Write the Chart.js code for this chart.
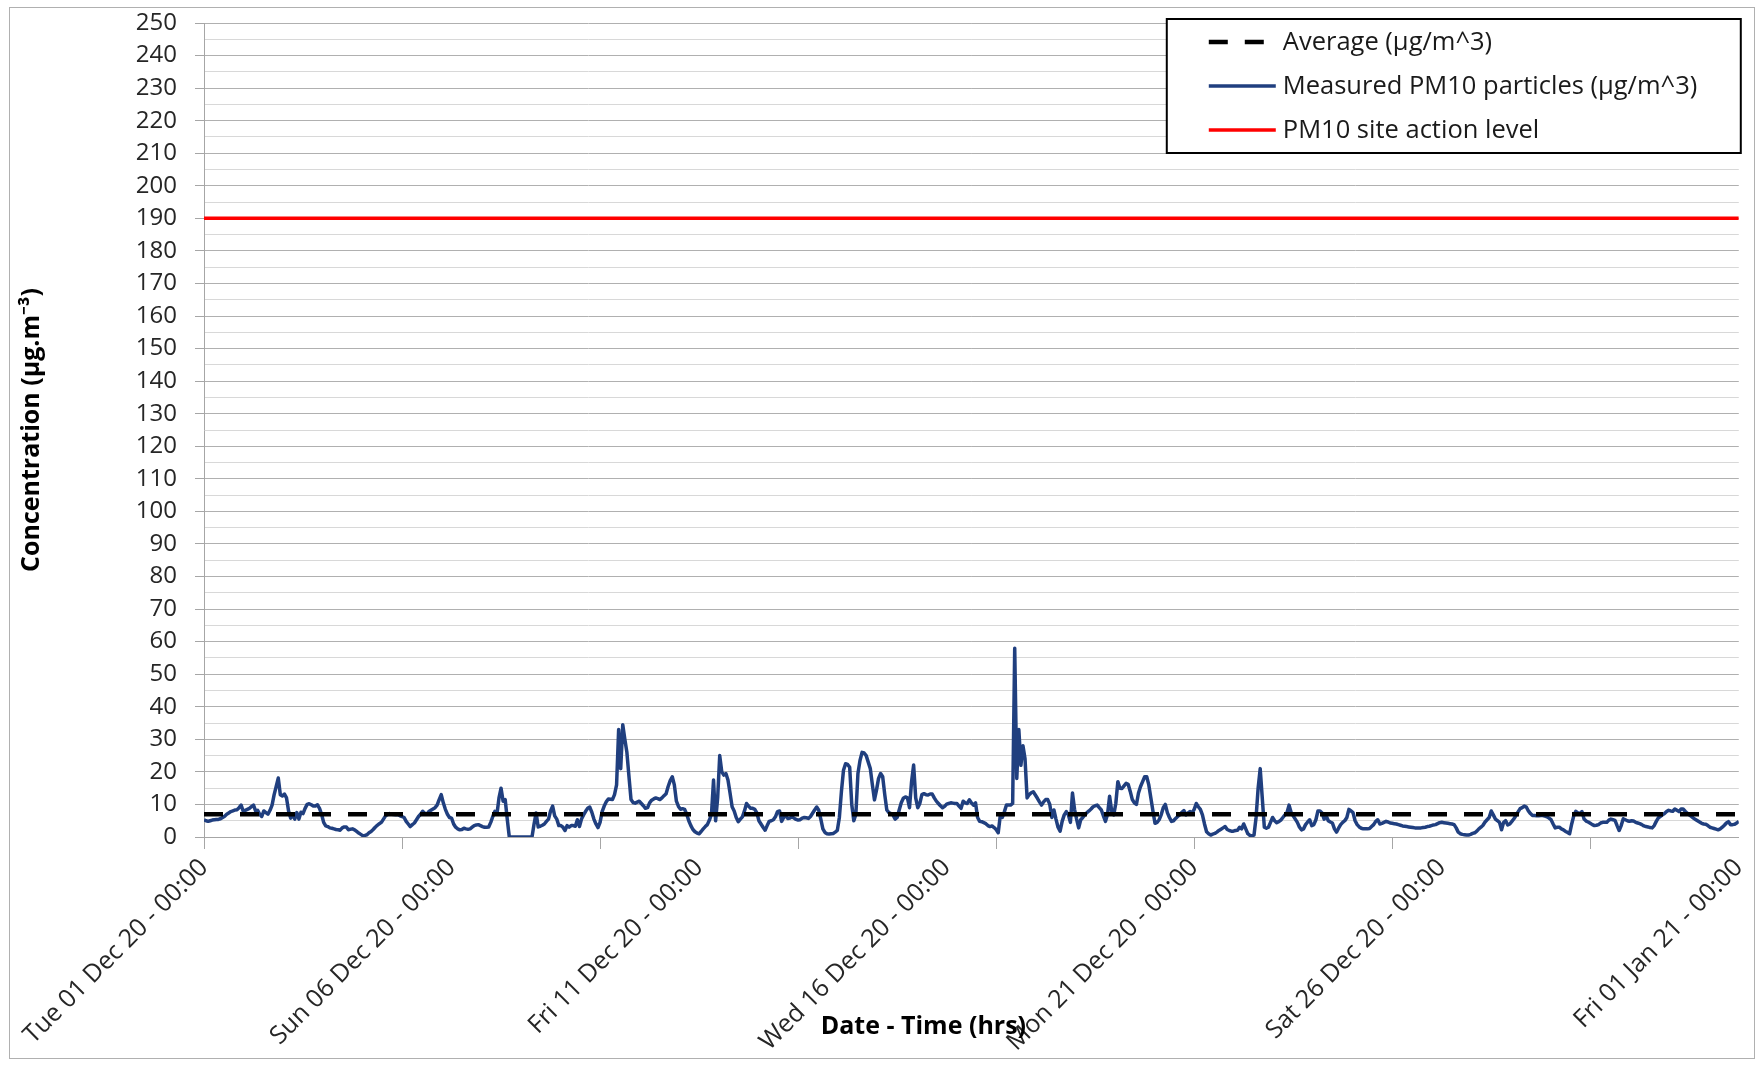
<!DOCTYPE html>
<html>
<head>
<meta charset="utf-8">
<title>PM10 concentration - December 2020</title>
<script src="https://cdn.jsdelivr.net/npm/chart.js@4.4.1/dist/chart.umd.min.js"></script>
<style>
  html, body { margin: 0; padding: 0; background: #fff; }
  #wrap { width: 1764px; height: 1067px; position: relative; }
</style>
</head>
<body>
<div id="wrap"><canvas id="pm10"></canvas></div>
<script>
'use strict';

/*--- data: hourly PM10 readings, one array per day (ug/m3) ---*/
const day01 = [5.3, 5.0, 4.8, 5.0, 5.2, 5.3, 5.4, 5.4, 5.6, 6.0, 6.4, 7.0, 7.4, 7.8, 8.0, 8.3, 8.4, 9.0, 9.8, 7.9, 8.2, 8.5, 8.8, 9.3];
const day02 = [9.8, 8.0, 8.2, 7.0, 6.3, 8.0, 7.5, 7.0, 8.2, 9.8, 13.0, 15.5, 18.1, 13.0, 12.6, 13.2, 12.0, 8.0, 5.8, 6.9, 5.5, 7.5, 5.5, 7.6];
const day03 = [7.2, 8.8, 10.0, 10.2, 9.9, 9.5, 9.5, 9.9, 8.8, 7.0, 4.5, 3.4, 3.2, 2.8, 2.7, 2.5, 2.3, 2.2, 2.1, 2.8, 3.1, 3.1, 2.2, 2.4];
const day04 = [2.5, 2.2, 1.7, 1.2, 0.8, 0.4, 0.5, 0.7, 1.3, 1.7, 2.3, 3.0, 3.6, 4.1, 4.5, 5.5, 6.5, 6.9, 7.2, 7.0, 6.9, 6.8, 6.9, 6.5];
const day05 = [6.3, 6.0, 4.8, 4.0, 3.2, 3.8, 4.3, 5.3, 6.3, 7.0, 7.9, 7.3, 7.0, 7.8, 8.2, 8.6, 9.0, 9.8, 11.5, 13.0, 10.5, 8.5, 7.0, 6.0];
const day06 = [5.8, 4.0, 3.0, 2.5, 2.2, 2.3, 2.7, 2.5, 2.4, 2.5, 3.0, 3.5, 3.7, 3.8, 3.5, 3.2, 3.0, 3.0, 3.1, 4.5, 6.3, 7.9, 7.0, 12.0];
const day07 = [15.0, 11.0, 11.5, 5.5, 0, 0, 0, 0, 0, 0, 0, 0, 0, 0, 0, 0, 4.0, 7.4, 3.1, 3.3, 3.6, 4.0, 4.8, 5.5];
const day08 = [8.0, 9.5, 6.5, 5.5, 3.5, 3.5, 3.0, 2.0, 3.5, 3.0, 3.5, 3.5, 3.3, 5.3, 3.2, 5.5, 6.8, 7.9, 8.8, 9.2, 7.6, 5.5, 4.0, 2.9];
const day09 = [4.5, 7.8, 9.5, 10.8, 11.7, 11.6, 11.5, 13.0, 16.0, 33.0, 21.0, 34.5, 30.0, 26.0, 18.6, 11.5, 10.6, 10.4, 10.7, 11.0, 10.3, 9.6, 8.8, 9.0];
const day10 = [10.5, 11.3, 11.7, 12.0, 11.8, 11.5, 12.0, 12.7, 13.3, 15.5, 17.3, 18.5, 16.0, 11.0, 9.4, 8.5, 8.7, 8.5, 7.0, 5.0, 3.5, 2.3, 1.6, 1.2];
const day11 = [1.0, 1.7, 2.5, 3.2, 3.8, 5.2, 7.0, 17.5, 5.0, 12.0, 25.0, 20.0, 19.0, 19.5, 17.5, 13.5, 9.3, 8.0, 6.0, 4.7, 5.5, 6.2, 8.0, 10.3];
const day12 = [9.5, 8.8, 8.8, 8.5, 7.4, 5.0, 4.0, 3.0, 2.1, 3.5, 4.8, 5.0, 5.3, 6.2, 7.8, 8.0, 4.8, 6.0, 6.6, 5.7, 5.8, 6.2, 5.8, 5.4];
const day13 = [5.2, 5.3, 5.8, 6.0, 5.9, 5.7, 6.3, 7.3, 8.3, 9.2, 8.2, 5.5, 2.5, 1.4, 1.0, 0.9, 1.0, 1.1, 1.5, 2.0, 6.0, 14.0, 20.5, 22.5];
const day14 = [22.3, 21.4, 10.0, 5.0, 7.0, 19.5, 23.5, 26.0, 25.8, 25.0, 23.0, 21.0, 16.0, 11.4, 14.4, 18.0, 19.5, 18.5, 13.0, 8.3, 7.5, 7.2, 6.8, 5.5];
const day15 = [6.0, 8.3, 10.5, 11.9, 12.3, 12.0, 9.0, 17.0, 22.1, 12.0, 9.0, 10.3, 13.0, 13.3, 13.0, 12.9, 13.2, 13.2, 12.0, 11.0, 10.3, 9.6, 9.0, 9.4];
const day16 = [10.1, 10.3, 10.5, 10.4, 10.3, 10.3, 9.5, 8.8, 11.0, 10.5, 10.3, 11.4, 10.5, 9.8, 10.5, 6.0, 4.8, 4.7, 4.4, 4.1, 3.5, 3.2, 3.4, 2.9];
const day17 = [2.3, 1.3, 6.5, 6.0, 7.8, 9.8, 9.8, 9.8, 10.3, 58.0, 18.0, 33.0, 22.0, 28.0, 24.0, 12.0, 13.0, 13.6, 13.9, 12.9, 11.9, 10.8, 9.8, 10.8];
const day18 = [11.5, 11.5, 10.0, 6.0, 8.3, 5.5, 3.0, 1.8, 4.8, 6.8, 7.8, 6.8, 4.5, 13.5, 8.5, 5.5, 2.8, 5.3, 6.0, 6.8, 7.5, 8.0, 8.6, 9.3];
const day19 = [9.6, 9.8, 9.0, 8.3, 6.5, 4.8, 7.0, 12.5, 8.0, 6.8, 10.3, 17.0, 15.0, 14.9, 15.7, 16.5, 16.2, 14.0, 11.5, 10.5, 10.0, 13.5, 15.5, 17.0];
const day20 = [18.5, 18.5, 16.0, 12.0, 8.0, 4.2, 4.5, 5.3, 6.8, 9.0, 10.0, 7.5, 6.0, 4.8, 5.0, 5.7, 6.3, 6.8, 7.6, 8.1, 6.8, 7.4, 7.8, 7.4];
const day21 = [8.5, 10.3, 9.3, 8.5, 6.8, 4.0, 1.6, 1.0, 0.6, 0.9, 1.1, 1.5, 2.0, 2.4, 2.8, 3.2, 2.3, 2.0, 1.8, 1.8, 2.0, 2.1, 3.0, 2.5];
const day22 = [4.0, 2.5, 1.0, 0.5, 0.4, 0.6, 6.0, 15.0, 21.0, 12.0, 3.0, 2.7, 3.0, 4.5, 6.0, 5.0, 4.4, 4.7, 5.2, 6.0, 6.8, 7.5, 9.8, 7.5];
const day23 = [6.5, 5.5, 4.5, 3.1, 2.2, 2.5, 3.8, 4.6, 5.3, 3.5, 3.8, 5.3, 8.0, 8.0, 7.4, 5.5, 6.5, 5.0, 4.6, 4.3, 2.5, 1.5, 2.7, 3.8];
const day24 = [4.5, 5.0, 6.0, 8.5, 8.0, 7.5, 5.0, 3.8, 3.1, 2.7, 2.5, 2.5, 2.5, 2.6, 3.2, 3.8, 4.8, 5.3, 4.0, 4.2, 4.5, 4.8, 4.6, 4.3];
const day25 = [4.2, 4.1, 4.0, 3.8, 3.6, 3.4, 3.3, 3.2, 3.1, 3.0, 2.9, 2.8, 2.8, 2.8, 2.8, 2.9, 3.0, 3.2, 3.3, 3.5, 3.7, 3.8, 4.1, 4.4];
const day26 = [4.5, 4.4, 4.3, 4.2, 4.1, 4.0, 3.8, 2.8, 1.5, 1.0, 0.8, 0.7, 0.6, 0.6, 0.8, 1.1, 1.3, 1.8, 2.5, 3.0, 3.6, 4.6, 5.3, 6.0];
const day27 = [8.0, 6.8, 5.5, 5.0, 4.5, 2.2, 4.5, 5.0, 3.7, 4.0, 4.8, 5.6, 6.6, 7.7, 8.7, 9.0, 9.5, 9.2, 8.0, 7.2, 6.6, 6.6, 6.5, 6.5];
const day28 = [6.6, 6.6, 6.4, 6.2, 5.8, 5.3, 4.0, 2.8, 3.0, 3.0, 2.5, 2.2, 1.7, 1.4, 1.0, 4.0, 6.5, 7.9, 7.4, 7.2, 7.8, 5.5, 4.9, 4.6];
const day29 = [4.2, 3.8, 3.5, 3.6, 3.8, 4.3, 4.5, 4.5, 4.5, 5.2, 5.5, 5.3, 5.1, 3.5, 2.0, 3.5, 5.6, 5.3, 5.0, 4.8, 5.0, 4.9, 4.5, 4.3];
const day30 = [4.1, 3.8, 3.4, 3.2, 3.1, 2.9, 2.8, 3.5, 4.8, 5.9, 6.3, 6.8, 7.2, 7.8, 8.2, 8.0, 7.9, 8.6, 8.2, 7.8, 8.6, 8.6, 7.9, 7.3];
const day31 = [6.8, 6.3, 5.8, 5.4, 5.0, 4.6, 4.2, 4.0, 3.9, 3.5, 3.0, 2.8, 2.6, 2.4, 2.2, 2.5, 3.0, 3.6, 4.3, 4.7, 3.8, 3.8, 3.9, 4.3];
const jan01 = [4.8];

const measured = [].concat(day01, day02, day03, day04, day05, day06, day07, day08, day09, day10,
  day11, day12, day13, day14, day15, day16, day17, day18, day19, day20, day21, day22, day23,
  day24, day25, day26, day27, day28, day29, day30, day31, jan01);

const avgLevel = 7;        // dashed average line
const actionLevel = 190;   // site action level
const hoursTotal = 744;    // 01 Dec 00:00 -> 01 Jan 00:00

/*--- x axis: labels every 5 days, tick marks every 4 days ---*/
const labelHours = [0, 120, 240, 360, 480, 600, 744];
const tickLabels = ['Tue 01 Dec 20 - 00:00', 'Sun 06 Dec 20 - 00:00', 'Fri 11 Dec 20 - 00:00',
  'Wed 16 Dec 20 - 00:00', 'Mon 21 Dec 20 - 00:00', 'Sat 26 Dec 20 - 00:00', 'Fri 01 Jan 21 - 00:00'];
const markHours = [0, 96, 192, 288, 384, 480, 576, 672];

const seriesNames = ['Average (\u00b5g/m^3)', 'Measured PM10 particles (\u00b5g/m^3)', 'PM10 site action level'];

/*--- look ---*/
Chart.defaults.font.family = "'Open Sans', 'Noto Sans', 'DejaVu Sans', sans-serif";
const axisGray = '#a6a6a6';
const textCol = '#262626';

const flatLine = (v) => [{ x: 0, y: v }, { x: hoursTotal, y: v }];

/*--- plugins: frame, legend box, x title ---*/
const framePlugin = {
  id: 'frame',
  beforeDraw(chart) {
    const c = chart.ctx;
    c.save();
    c.fillStyle = '#fff';
    c.fillRect(0, 0, chart.width, chart.height);
    c.restore();
  },
  afterDraw(chart) {
    const c = chart.ctx;
    c.save();
    c.strokeStyle = '#b0b0b0';
    c.lineWidth = 1;
    c.strokeRect(9.5, 7.5, chart.width - 19, chart.height - 16);
    c.restore();
  }
};

const legendBox = {
  id: 'legendBox',
  afterDraw(chart) {
    const c = chart.ctx;
    const a = chart.chartArea;
    const x0 = a.right - 572, y0 = 19, w = 574, h = 134;
    c.save();
    c.fillStyle = '#fff';
    c.fillRect(x0, y0, w, h);
    c.strokeStyle = '#000';
    c.lineWidth = 2;
    c.strokeRect(x0, y0, w, h);
    c.font = "25.5px 'Open Sans', 'Noto Sans', sans-serif";
    c.textBaseline = 'middle';
    c.fillStyle = '#1a1a1a';
    chart.data.datasets.forEach((ds, i) => {
      const yy = y0 + 23 + i * 44;
      c.save();
      c.strokeStyle = ds.borderColor;
      c.lineWidth = ds.borderWidth;
      c.setLineDash(ds.borderDash || []);
      c.beginPath();
      c.moveTo(x0 + 42, yy);
      c.lineTo(x0 + 109, yy);
      c.stroke();
      c.restore();
      c.fillText(ds.label, x0 + 116, yy + 1);
    });
    c.restore();
  }
};

const xTitle = {
  id: 'xTitle',
  afterDraw(chart) {
    const c = chart.ctx;
    const a = chart.chartArea;
    c.save();
    c.font = "bold 25px 'Open Sans', 'Noto Sans', sans-serif";
    c.fillStyle = '#000';
    c.textAlign = 'center';
    c.textBaseline = 'middle';
    c.fillText('Date - Time (hrs)', (a.left + a.right) / 2 - 48, a.bottom + 190);
    c.restore();
  }
};

new Chart(document.getElementById('pm10'), {
  type: 'line',
  data: {
    datasets: [{
      label: seriesNames[0],
      data: flatLine(avgLevel),
      borderColor: '#000000',
      borderWidth: 4.5,
      borderDash: [19, 17],
      pointRadius: 0
    }, {
      label: seriesNames[1],
      data: measured.map((v, i) => ({ x: i, y: v })),
      borderColor: '#203f7f',
      borderWidth: 3.5,
      pointRadius: 0,
      borderJoinStyle: 'round',
      tension: 0
    }, {
      label: seriesNames[2],
      data: flatLine(actionLevel),
      borderColor: '#ff0000',
      borderWidth: 3.5,
      pointRadius: 0
    }]
  },
  options: {
    responsive: true,
    maintainAspectRatio: false,
    animation: false,
    devicePixelRatio: 1,
    layout: { padding: { left: 10, right: 22, top: 23, bottom: 0 } },
    plugins: {
      legend: { display: false },
      tooltip: { enabled: false }
    },
    scales: {
      x: {
        type: 'linear',
        min: 0,
        max: hoursTotal,
        afterBuildTicks: (s) => {
          const all = [...new Set([...markHours, ...labelHours])].sort((a, b) => a - b);
          s.ticks = all.map(v => ({ value: v }));
        },
        afterFit: (s) => { s.height = 230; },
        ticks: {
          autoSkip: false,
          maxRotation: 45,
          minRotation: 45,
          padding: 4,
          color: textCol,
          font: { size: 25 },
          callback: (v) => {
            const i = labelHours.indexOf(v);
            return i >= 0 ? tickLabels[i] : '';
          }
        },
        grid: {
          drawOnChartArea: false,
          drawTicks: true,
          tickLength: 12,
          tickColor: (ctx) => (ctx.tick && markHours.includes(ctx.tick.value)) ? axisGray : 'rgba(0,0,0,0)'
        },
        border: { color: axisGray, width: 1 }
      },
      y: {
        min: 0,
        max: 250,
        afterFit: (s) => {
          s.width = 194;
          s.paddingTop = 0;   // let the plot top sit right at the layout padding
        },
        ticks: {
          stepSize: 5,
          autoSkip: false,
          padding: 18,
          color: textCol,
          font: { size: 24 },
          callback: (v) => (v % 10 === 0 ? v : '')
        },
        grid: {
          color: (ctx) => (ctx.tick && ctx.tick.value % 10 === 0) ? '#b0b0b0' : '#d8d8d8',
          lineWidth: 1,
          tickLength: 9,
          tickColor: (ctx) => (ctx.tick && ctx.tick.value % 10 === 0) ? axisGray : 'rgba(0,0,0,0)'
        },
        border: { color: axisGray, width: 1 },
        title: {
          display: true,
          text: 'Concentration (\u00b5g.m\u207b\u00b3)',
          color: '#000',
          font: { size: 25, weight: 'bold' },
          padding: { top: 7, bottom: 0 }
        }
      }
    }
  },
  plugins: [framePlugin, legendBox, xTitle]
});
</script>
</body>
</html>
